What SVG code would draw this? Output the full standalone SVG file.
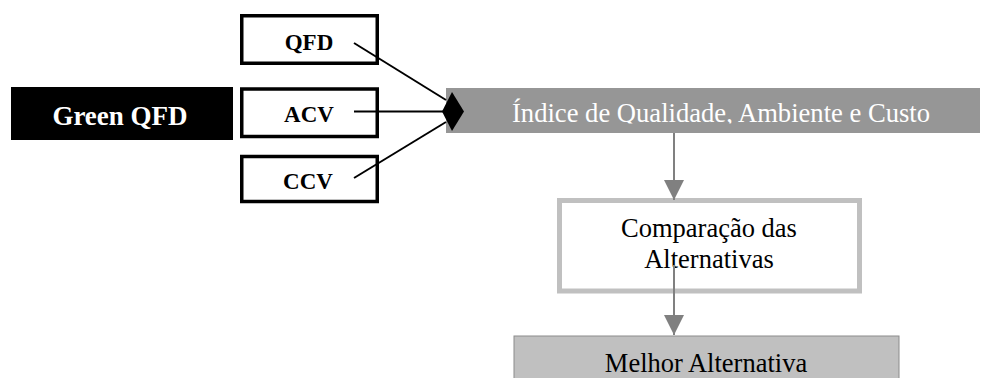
<svg xmlns="http://www.w3.org/2000/svg" width="983" height="378" viewBox="0 0 983 378">
  <style>
    .serif { font-family: "Liberation Serif", "Times New Roman", serif; }
    .bold { font-weight: bold; }
    .input { fill: #ffffff; stroke: #000000; stroke-width: 3.5; }
    .input-label { font-size: 23px; fill: #000000; text-anchor: middle; }
    .link { stroke: #000000; stroke-width: 2; fill: none; }
    .flow { stroke: #808080; stroke-width: 2; fill: none; }
    .body { font-size: 26.5px; fill: #000000; text-anchor: middle; }
  </style>
  <defs>
    <marker id="grayHead" markerUnits="userSpaceOnUse" markerWidth="20" markerHeight="20" refX="20" refY="10" orient="auto">
      <path d="M0,0 L20,10 L0,20 Z" fill="#808080"/>
    </marker>
    <!-- the index label frame cuts off everything below the baseline -->
    <clipPath id="indexClip">
      <rect x="446" y="88" width="534" height="35.5"/>
    </clipPath>
  </defs>

  <!-- Method label -->
  <g id="green-qfd">
    <rect x="11" y="87" width="222" height="53" fill="#000000"/>
    <text class="serif bold" x="120" y="125" font-size="27" fill="#ffffff" text-anchor="middle">Green QFD</text>
  </g>

  <!-- Input tools -->
  <g id="qfd">
    <rect class="input" x="241.75" y="15.75" width="135.5" height="47.5"/>
    <text class="serif bold input-label" x="309" y="50">QFD</text>
  </g>
  <g id="acv">
    <rect class="input" x="241.75" y="89" width="135.5" height="47.5"/>
    <text class="serif bold input-label" x="309" y="121.5">ACV</text>
  </g>
  <g id="ccv">
    <rect class="input" x="241.75" y="156.5" width="135.5" height="45"/>
    <text class="serif bold input-label" x="308" y="189">CCV</text>
  </g>

  <!-- Combined index -->
  <g id="indice">
    <rect x="446" y="88" width="534" height="45" fill="#969696"/>
    <text class="serif" x="721" y="122" font-size="26.6" fill="#ffffff" text-anchor="middle" clip-path="url(#indexClip)">Índice de Qualidade, Ambiente e Custo</text>
  </g>

  <!-- Comparison step -->
  <g id="comparacao">
    <rect x="559.5" y="200.5" width="300" height="90.5" fill="#ffffff" stroke="#c0c0c0" stroke-width="5"/>
    <text class="serif body" x="709" y="237">Comparação das</text>
    <text class="serif body" x="709" y="268">Alternativas</text>
  </g>

  <!-- Result -->
  <g id="melhor">
    <rect x="514" y="336" width="385" height="60" fill="#c0c0c0" stroke="#8c8c8c" stroke-width="1"/>
    <text class="serif body" x="706" y="372">Melhor Alternativa</text>
  </g>

  <!-- Connectors -->
  <g id="connectors">
    <line class="link" x1="354" y1="43" x2="446" y2="100"/>
    <line class="link" x1="354" y1="111.5" x2="444" y2="111.5"/>
    <line class="link" x1="354" y1="178" x2="446" y2="122"/>
    <polygon points="442,111.5 452,92 464,111.5 452,131" fill="#000000"/>
    <line class="flow" x1="674" y1="133" x2="674" y2="200" marker-end="url(#grayHead)"/>
    <line class="flow" x1="674" y1="265" x2="674" y2="335" marker-end="url(#grayHead)"/>
  </g>
</svg>
